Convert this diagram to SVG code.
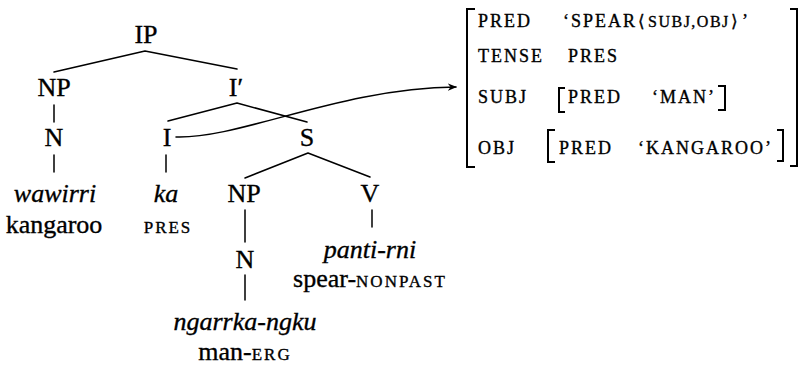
<svg xmlns="http://www.w3.org/2000/svg" width="799" height="368" viewBox="0 0 799 368" font-family="'Liberation Serif', 'Times New Roman', 'DejaVu Serif', serif">
<defs>
<style>
text{font-family:'Liberation Serif','Times New Roman','DejaVu Serif',serif;fill:#000;stroke:#000;stroke-width:0.35px}
.t{font-size:26px;text-anchor:middle}
.i{font-style:italic}
.sc{font-size:17px;letter-spacing:2px}
.a{font-size:18px;letter-spacing:2px}
.small{font-size:16px;letter-spacing:1.5px}
.ang{font-family:'DejaVu Serif','DejaVu Sans',serif;font-size:17px;letter-spacing:0}
.ln{stroke:#000;stroke-width:1.5;fill:none;stroke-linecap:round}
.br{stroke:#000;stroke-width:2;fill:none}
</style>
<marker id="ah" viewBox="0 0 10 10" refX="9" refY="5" markerWidth="9" markerHeight="9" markerUnits="userSpaceOnUse" orient="auto">
<path d="M0,1 L10,5 L0,9 L3,5 Z" fill="#000"/>
</marker>
</defs>
<rect width="799" height="368" fill="#fff"/>
<g id="connectors">
<path class="ln" d="M145,51 L54,72 M145,51 L237,69"/>
<path class="ln" d="M54,105 L54,122 M54,155 L54,172"/>
<path class="ln" d="M237,103 L168,121 M237,103 L307,122"/>
<path class="ln" d="M166,155 L166,172"/>
<path class="ln" d="M308,153 L245,178 M308,153 L370,177"/>
<path class="ln" d="M245,210 L245,242 M245,275 L245,300"/>
<path class="ln" d="M372,210 L372,227"/>
<path class="ln" d="M176,137 C240,139 340,88 456,87" marker-end="url(#ah)"/>
</g>
<g id="node-IP"><text class="t" x="146" y="43">IP</text></g>
<g id="node-NP1"><text class="t" x="54" y="96">NP</text></g>
<g id="node-Ibar"><text class="t" x="236" y="96">I′</text></g>
<g id="node-N1"><text class="t" x="54" y="146">N</text></g>
<g id="node-I"><text class="t" x="167" y="146">I</text></g>
<g id="node-S"><text class="t" x="307" y="146">S</text></g>
<g id="node-wawirri"><text class="t i" x="55" y="202">wawirri</text><text class="t" x="54" y="233">kangaroo</text></g>
<g id="node-ka"><text class="t i" x="166" y="202">ka</text><text class="t sc" x="168" y="233">PRES</text></g>
<g id="node-NP2"><text class="t" x="244" y="202">NP</text></g>
<g id="node-V"><text class="t" x="370" y="202">V</text></g>
<g id="node-N2"><text class="t" x="245" y="268">N</text></g>
<g id="node-panti"><text class="t i" x="370" y="258">panti-rni</text><text class="t" x="370" y="287">spear-<tspan class="sc">NONPAST</tspan></text></g>
<g id="node-ngarrka"><text class="t i" x="245" y="330">ngarrka-ngku</text><text class="t" x="245" y="360">man-<tspan class="sc">ERG</tspan></text></g>
<g id="fstructure">
<path class="br" d="M475,9 L467,9 L467,167 L475,167"/>
<path class="br" d="M790,9 L797,9 L797,166 L790,166"/>
<text class="a" x="478" y="27">PRED</text>
<text class="a" x="563" y="27">‘SPEAR</text>
<text class="ang" x="638" y="27">⟨</text>
<text class="small" x="648" y="27">SUBJ,OBJ</text>
<text class="ang" x="731" y="27">⟩</text>
<text class="a" x="742" y="27">’</text>
<text class="a" x="478" y="62">TENSE</text>
<text class="a" x="568" y="62">PRES</text>
<text class="a" x="478" y="103">SUBJ</text>
<path class="br" d="M565,88 L559,88 L559,112 L565,112"/>
<text class="a" x="568" y="103">PRED</text>
<text class="a" x="652" y="103">‘MAN’</text>
<path class="br" d="M718,86 L725,86 L725,110 L718,110"/>
<text class="a" x="478" y="154">OBJ</text>
<path class="br" d="M555,130 L548,130 L548,162 L555,162"/>
<text class="a" x="559" y="154">PRED</text>
<text class="a" x="638" y="154">‘KANGAROO’</text>
<path class="br" d="M777,130 L783,130 L783,161 L777,161"/>
</g>
</svg>
